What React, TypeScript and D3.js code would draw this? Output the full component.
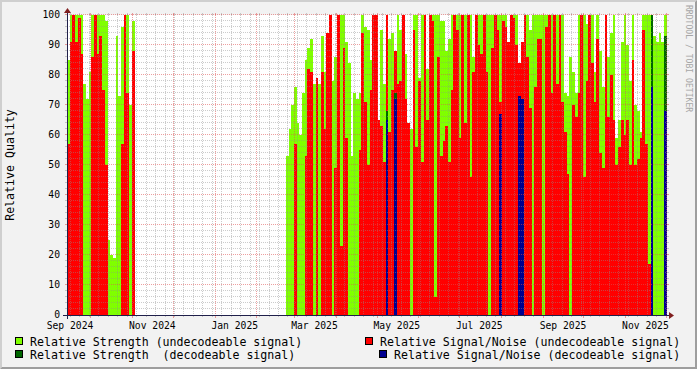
import React from "react";
import * as d3 from "d3";

// ---------- data ----------
const domainStart = "2024-09-13T19:00:00Z";
const domainDays = 444.2;
const stepDays = 2;

const seg1Start = "2024-09-13T19:00:00Z";
const seg1Strength = [85, 100, 100, 100, 100, 100, 77, 72, 81, 100, 100, 100, 100, 100, 98, 25, 20, 19, 93, 73, 96, 100, 100, 70, 98];
const seg1SNR = [57, 91, 100, 91, 99, 87, 0, 0, 0, 86, 100, 87, 93, 75, 50, 0, 0, 0, 0, 0, 57, 100, 74, 0, 88];

const seg2Start = "2025-02-22T19:00:00Z";
const seg2Strength = [
  53, 62, 70, 76, 64, 60, 74, 85, 89, 92, 77, 62, 77, 93, 81, 94, 78, 78, 86, 100,
  100, 100, 91, 84, 53, 74, 72, 74, 100, 96, 95, 85, 80, 80, 62, 95, 77, 100, 92, 94,
  82, 100, 95, 77, 87, 56, 62, 100, 100, 79, 100, 86, 82, 100, 100, 100, 100, 98, 98, 88,
  92, 100, 100, 100, 100, 100, 100, 100, 100, 86, 100, 100, 100, 100, 100, 100, 100, 100, 100, 100,
  100, 100, 91, 100, 100, 100, 84, 80, 100, 100, 95, 100, 100, 100, 100, 100, 100, 100, 100, 100,
  100, 100, 100, 74, 73, 86, 81, 74, 100, 100, 100, 97, 100, 100, 81, 100, 88, 76, 72, 86,
  94, 100, 59, 65, 91, 100, 90, 78, 100, 70, 68, 61, 100, 100, 100, 100, 93, 91, 94, 91,
  100,
];
const seg2SNR = [
  0, 0, 0, 57, 0, 0, 0, 53, 82, 81, 0, 79, 0, 81, 62, 94, 100, 0, 49, 100,
  23, 89, 59, 0, 0, 0, 0, 55, 94, 71, 50, 75, 100, 100, 65, 63, 51, 100, 61, 75,
  88, 77, 78, 100, 72, 64, 0, 95, 56, 78, 51, 100, 65, 100, 98, 6, 86, 53, 58, 63,
  51, 75, 100, 95, 59, 100, 64, 100, 46, 81, 100, 90, 87, 100, 81, 0, 89, 100, 95, 71,
  98, 96, 91, 100, 99, 90, 84, 91, 100, 86, 69, 0, 76, 92, 92, 0, 96, 100, 74, 100,
  77, 100, 71, 61, 47, 0, 70, 66, 74, 100, 46, 78, 100, 84, 71, 92, 54, 49, 100, 66,
  80, 65, 50, 56, 65, 60, 65, 50, 85, 50, 52, 59, 95, 57, 17, 0, 0, 0, 0, 0,
  0,
];

const decStrengthDates = ["2025-05-07", "2025-05-13", "2025-08-15", "2025-11-19", "2025-11-29"];
const decStrengthValues = [68, 74, 72, 100, 93];
const decSNRDates = ["2025-05-07", "2025-05-13", "2025-07-30", "2025-08-13", "2025-08-15", "2025-11-19", "2025-11-29"];
const decSNRValues = [65, 72, 67, 73, 72, 76, 68];

const yTicks = [0, 10, 20, 30, 40, 50, 60, 70, 80, 90, 100];
const yMinorStep = 2;
const yTitle = "Relative Quality";
const watermark = "RRDTOOL / TOBI OETIKER";
const legendStrengthU = "Relative Strength (undecodeable signal)";
const legendSNRU = "Relative Signal/Noise (undecodeable signal)";
const legendStrengthD = "Relative Strength  (decodeable signal)";
const legendSNRD = "Relative Signal/Noise (decodeable signal)";

// ---------- style ----------
const W = 697, H = 369;
const X0 = 67, X1 = 667, Y0 = 315, Y1 = 15;
const FONT = "'DejaVu Sans Mono', monospace";
const C_GREEN = "#80FF00";
const C_RED = "#FF0000";
const C_DGREEN = "#006600";
const C_BLUE = "#000090";
const C_GRID = "rgba(143,143,143,0.45)";
const C_MGRID = "rgba(222,80,80,0.55)";
const C_AXIS = "#20204a";
const C_ARROW = "#801f1f";

const DAY = 86400000;

type Bar = { t: Date; v: number };

function seg(start: string, vals: number[]): Bar[] {
  const s = new Date(start).getTime();
  return vals.map((v, i) => ({ t: new Date(s + i * stepDays * DAY), v }));
}
function sparse(dates: string[], vals: number[]): Bar[] {
  return dates.map((d, i) => ({ t: new Date(d + "T19:00:00Z"), v: vals[i] }));
}

export default function App() {
  const t0 = new Date(domainStart);
  const t1 = new Date(t0.getTime() + domainDays * DAY);
  const x = d3.scaleUtc().domain([t0, t1]).range([X0, X1]);
  const y = d3.scaleLinear().domain([0, 100]).range([Y0, Y1]);

  const strengthU = [...seg(seg1Start, seg1Strength), ...seg(seg2Start, seg2Strength)];
  const snrU = [...seg(seg1Start, seg1SNR), ...seg(seg2Start, seg2SNR)];
  const strengthD = sparse(decStrengthDates, decStrengthValues);
  const snrD = sparse(decSNRDates, decSNRValues);

  const bars = (data: Bar[], color: string, key: string) =>
    data
      .filter((d) => d.v > 0)
      .map((d, i) => {
        const xa = Math.round(x(d.t));
        const xb = Math.round(x(new Date(d.t.getTime() + stepDays * DAY)));
        const ya = Math.round(y(d.v));
        return <rect key={key + i} x={xa} y={ya} width={Math.max(1, xb - xa)} height={Y0 - ya} fill={color} />;
      });

  // grid
  const minorY = d3.range(0, 101, yMinorStep).filter((v) => v % 10 !== 0);
  const majorY = yTicks.filter((v) => v !== 0);
  const months = d3.utcMonth.range(t0, t1);
  const monthKeys = new Set(months.map((m) => m.getTime()));
  const weeks = d3.utcMonday.range(t0, t1).filter((w) => !monthKeys.has(w.getTime()));
  const labelMonths = d3.utcMonth
    .every(2)!
    .range(d3.utcMonth.floor(t0), t1)
    .filter((m) => m.getTime() + 15 * DAY <= t1.getTime());
  const fmt = d3.utcFormat("%b %Y");

  const px = (v: number) => Math.round(v) + 0.5;

  return (
    <svg
      width={W}
      height={H}
      viewBox={`0 0 ${W} ${H}`}
      style={{ position: "absolute", left: 0, top: 0, display: "block" }}
    >
      <rect x={0} y={0} width={W} height={H} fill="#F2F2F2" />
      <polygon points={`0,${H} 2,${H - 2} 2,2 ${W - 2},2 ${W},0 0,0`} fill="#CFCFCF" />
      <polygon points={`2,${H - 2} ${W - 2},${H - 2} ${W - 2},2 ${W},0 ${W},${H} 0,${H}`} fill="#9E9E9E" />
      <rect x={X0} y={Y1} width={X1 - X0} height={Y0 - Y1} fill="#FFFFFF" />

      <g shapeRendering="crispEdges">
        {bars(strengthU, C_GREEN, "g")}
        {bars(snrU, C_RED, "r")}
        {bars(strengthD, C_DGREEN, "dg")}
        {bars(snrD, C_BLUE, "b")}
      </g>

      <g shapeRendering="crispEdges" strokeWidth={1}>
        {minorY.map((v) => (
          <g key={"my" + v}>
            <line x1={X0} x2={X1} y1={px(y(v)) - 1} y2={px(y(v)) - 1} stroke={C_GRID} strokeDasharray="1,1" />
            <line x1={X0 - 2} x2={X0} y1={px(y(v)) - 1} y2={px(y(v)) - 1} stroke={C_GRID} />
            <line x1={X1} x2={X1 + 2} y1={px(y(v)) - 1} y2={px(y(v)) - 1} stroke={C_GRID} />
          </g>
        ))}
        {weeks.map((w) => (
          <g key={"wk" + w.getTime()}>
            <line x1={px(x(w))} x2={px(x(w))} y1={Y1} y2={Y0} stroke={C_GRID} strokeDasharray="1,1" />
            <line x1={px(x(w))} x2={px(x(w))} y1={Y0} y2={Y0 + 2} stroke={C_GRID} />
            <line x1={px(x(w))} x2={px(x(w))} y1={Y1 - 2} y2={Y1} stroke={C_GRID} />
          </g>
        ))}
        {majorY.map((v) => (
          <g key={"My" + v}>
            <line x1={X0} x2={X1} y1={px(y(v)) - 1} y2={px(y(v)) - 1} stroke={C_MGRID} strokeDasharray="1,1" />
            <line x1={X0 - 2} x2={X0} y1={px(y(v)) - 1} y2={px(y(v)) - 1} stroke={C_MGRID} />
            <line x1={X1} x2={X1 + 2} y1={px(y(v)) - 1} y2={px(y(v)) - 1} stroke={C_MGRID} />
          </g>
        ))}
        {months.map((m) => (
          <g key={"mo" + m.getTime()}>
            <line x1={px(x(m))} x2={px(x(m))} y1={Y1} y2={Y0} stroke={C_MGRID} strokeDasharray="1,1" />
            <line x1={px(x(m))} x2={px(x(m))} y1={Y0} y2={Y0 + 3} stroke={C_MGRID} />
            <line x1={px(x(m))} x2={px(x(m))} y1={Y1 - 2} y2={Y1} stroke={C_MGRID} />
          </g>
        ))}
      </g>

      {/* axes */}
      <g shapeRendering="crispEdges">
        <line x1={X0 - 4} x2={X1 + 4} y1={Y0 + 0.5} y2={Y0 + 0.5} stroke={C_AXIS} strokeWidth={1} />
        <line x1={X0 + 0.5} x2={X0 + 0.5} y1={Y0 + 4} y2={Y1 - 4} stroke={C_AXIS} strokeWidth={1} />
      </g>
      <polygon points={`${X1 + 2},${Y0 - 3} ${X1 + 2},${Y0 + 4} ${X1 + 7},${Y0 + 0.5}`} fill={C_ARROW} />
      <polygon points={`${X0 - 3},${Y1 - 2} ${X0 + 4},${Y1 - 2} ${X0 + 0.5},${Y1 - 7}`} fill={C_ARROW} />

      {/* axis labels */}
      <g fontFamily={FONT} fontSize={9.7} fill="#000">
        {yTicks.map((v) => (
          <text key={"yl" + v} x={60} y={y(v) + 3.4} textAnchor="end">
            {v}
          </text>
        ))}
        {labelMonths.map((m) => (
          <text key={"xl" + m.getTime()} x={x(new Date(m.getTime() + 15 * DAY))} y={328.5} textAnchor="middle">
            {fmt(m)}
          </text>
        ))}
      </g>

      <text
        transform={`translate(14,${(Y0 + Y1) / 2}) rotate(-90)`}
        fontFamily={FONT}
        fontSize={11.6}
        textAnchor="middle"
        fill="#000"
      >
        {yTitle}
      </text>
      <text
        transform={`translate(685.5,5) rotate(90)`}
        fontFamily={FONT}
        fontSize={8.1}
        fill="#A6A6A6"
      >
        {watermark}
      </text>

      {/* legend */}
      <g fontFamily={FONT} fontSize={11.6} fill="#000">
        <rect x={15.5} y={337.5} width={7} height={7} fill={C_GREEN} stroke="#000" shapeRendering="crispEdges" />
        <text x={30} y={345.5} style={{ whiteSpace: "pre" }}>{legendStrengthU}</text>
        <rect x={365.5} y={337.5} width={7} height={7} fill={C_RED} stroke="#000" shapeRendering="crispEdges" />
        <text x={380} y={345.5} style={{ whiteSpace: "pre" }}>{legendSNRU}</text>
        <rect x={15.5} y={350.5} width={7} height={7} fill={C_DGREEN} stroke="#000" shapeRendering="crispEdges" />
        <text x={30} y={358.5} style={{ whiteSpace: "pre" }}>{legendStrengthD}</text>
        <rect x={379.5} y={350.5} width={7} height={7} fill={C_BLUE} stroke="#000" shapeRendering="crispEdges" />
        <text x={394} y={358.5} style={{ whiteSpace: "pre" }}>{legendSNRD}</text>
      </g>
    </svg>
  );
}
